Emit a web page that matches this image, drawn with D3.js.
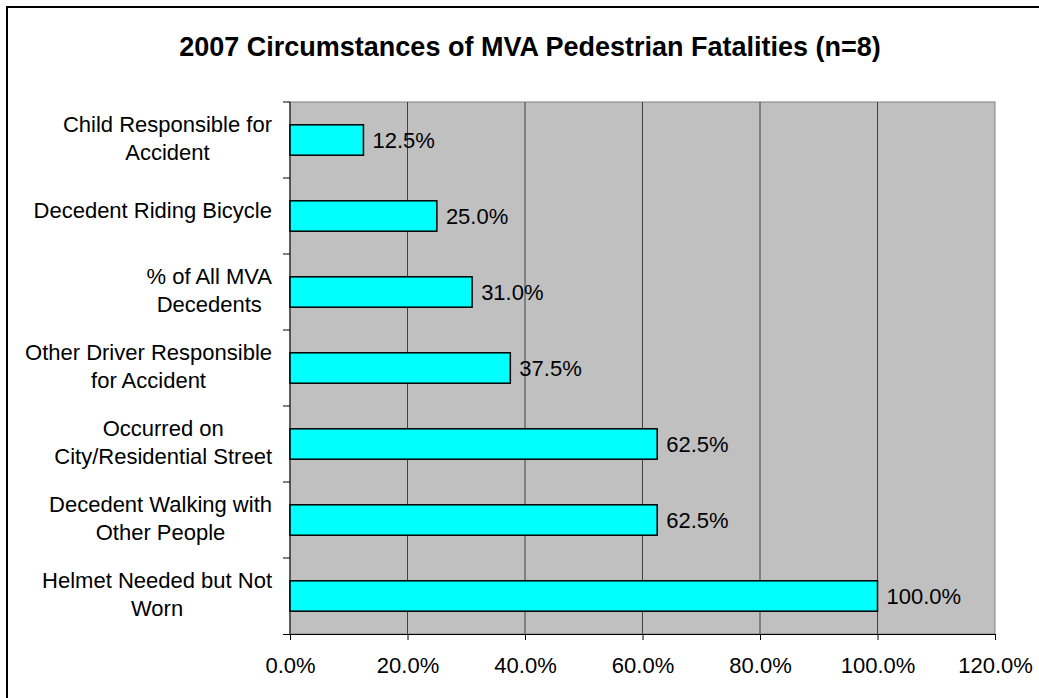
<!DOCTYPE html>
<html>
<head>
<meta charset="utf-8">
<script src="https://cdn.jsdelivr.net/npm/d3@7"></script>
<style>
  body { margin: 0; background: #fff; }
  svg { display: block; font-family: "Liberation Sans", Arial, sans-serif; }
</style>
</head>
<body>
<svg id="chart"></svg>
<script>
// chart values
const categories = [
  ['Child Responsible for', 'Accident'],
  ['Decedent Riding Bicycle'],
  ['% of All MVA', 'Decedents'],
  ['Other Driver Responsible', 'for Accident'],
  ['Occurred on', 'City/Residential Street'],
  ['Decedent Walking with', 'Other People'],
  ['Helmet Needed but Not', 'Worn']
];
const values = [12.5, 25.0, 31.0, 37.5, 62.5, 62.5, 100.0];
const xTicks = [0, 20, 40, 60, 80, 100, 120];
const title = '2007 Circumstances of MVA Pedestrian Fatalities (n=8)';

const width = 1039, height = 698;
const margin = { top: 102, right: 44, bottom: 64, left: 290 };
const fontSize = 22;

const svg = d3.select('#chart').attr('width', width).attr('height', height);

// outer frame (runs past the right/bottom edge like the original)
svg.append('rect')
  .attr('x', 7).attr('y', 7)
  .attr('width', width).attr('height', height)
  .attr('fill', 'none').attr('stroke', '#000').attr('stroke-width', 2);

svg.append('text')
  .attr('x', 530).attr('y', 56)
  .attr('text-anchor', 'middle')
  .attr('font-size', 27).attr('font-weight', 'bold')
  .text(title);

const x = d3.scaleLinear().domain([0, 120]).range([margin.left, width - margin.right]);
const y = d3.scaleBand()
  .domain(d3.range(categories.length))
  .range([margin.top, height - margin.bottom])
  .paddingInner(0.6).paddingOuter(0.3);

const plotTop = margin.top, plotBottom = height - margin.bottom;

// plot area
svg.append('rect')
  .attr('x', x(0)).attr('y', plotTop)
  .attr('width', x(120) - x(0)).attr('height', plotBottom - plotTop)
  .attr('fill', '#c0c0c0').attr('stroke', '#808080').attr('stroke-width', 1);

// gridlines
svg.append('g')
  .selectAll('line')
  .data(xTicks.slice(1, -1))
  .join('line')
  .attr('x1', d => x(d)).attr('x2', d => x(d))
  .attr('y1', plotTop).attr('y2', plotBottom)
  .attr('stroke', '#404040').attr('stroke-width', 1);

// x axis
const xAxis = svg.append('g')
  .attr('transform', `translate(0,${plotBottom})`)
  .call(d3.axisBottom(x).tickValues(xTicks).tickSize(6).tickPadding(17)
    .tickFormat(d => d.toFixed(1) + '%'));
xAxis.select('.domain').attr('stroke', '#000').attr('d', `M${x(0) - 7},0.5H${x(120)}`);
xAxis.selectAll('.tick line').attr('stroke', '#000');
xAxis.selectAll('.tick text').attr('font-size', fontSize).attr('fill', '#000')
  .attr('font-family', '"Liberation Sans", Arial, sans-serif');

// y axis line + category boundary ticks
const step = (plotBottom - plotTop) / categories.length;
svg.append('line')
  .attr('x1', x(0)).attr('x2', x(0))
  .attr('y1', plotTop).attr('y2', plotBottom)
  .attr('stroke', '#000');
svg.append('g')
  .selectAll('line')
  .data(d3.range(categories.length))
  .join('line')
  .attr('x1', x(0) - 7).attr('x2', x(0))
  .attr('y1', i => plotTop + i * step).attr('y2', i => plotTop + i * step)
  .attr('stroke', '#000');

// category labels: lines centred inside a block that is right-aligned
const lineH = 28;
const labelRight = 272;
const labels = svg.append('g').attr('font-size', fontSize).attr('fill', '#000');
categories.forEach((lines, i) => {
  // excel sits wrapped labels a touch above the band centre, single lines more so
  const cy = y(i) + y.bandwidth() / 2 - (lines.length > 1 ? 2 : 6);
  const g = labels.append('g');
  const texts = lines.map((s, k) => g.append('text')
    .attr('y', cy + (k - (lines.length - 1) / 2) * lineH)
    .attr('dy', '0.35em')
    .text(s));
  const blockW = d3.max(texts, t => t.node().getComputedTextLength());
  texts.forEach(t => t.attr('x', labelRight - blockW / 2).attr('text-anchor', 'middle'));
});

// bars
svg.append('g')
  .selectAll('rect')
  .data(values)
  .join('rect')
  .attr('x', x(0))
  .attr('y', (d, i) => y(i))
  .attr('width', d => x(d) - x(0))
  .attr('height', y.bandwidth())
  .attr('fill', '#00ffff')
  .attr('stroke', '#000').attr('stroke-width', 1.5);

// value labels
svg.append('g')
  .selectAll('text')
  .data(values)
  .join('text')
  .attr('x', d => x(d) + 9)
  .attr('y', (d, i) => y(i) + y.bandwidth() / 2)
  .attr('dy', '0.35em')
  .attr('font-size', fontSize)
  .text(d => d.toFixed(1) + '%');
</script>
</body>
</html>
